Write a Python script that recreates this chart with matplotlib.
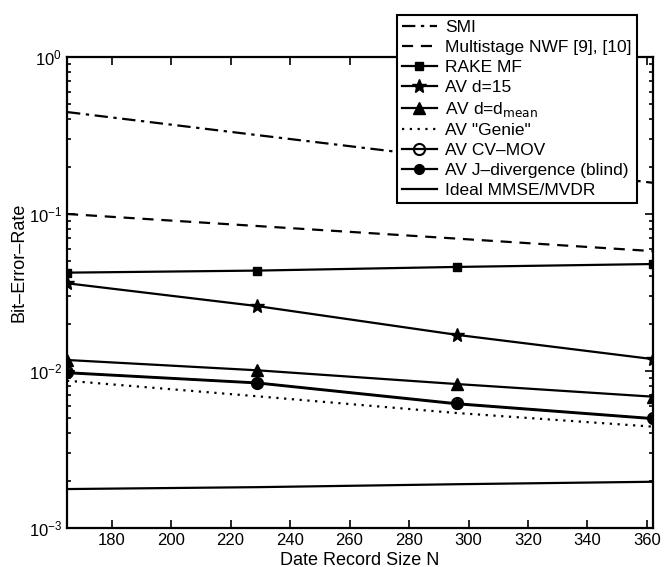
import matplotlib
matplotlib.use("Agg")
import matplotlib.pyplot as plt
import numpy as np

plt.rcParams['font.family'] = ['Liberation Sans', 'DejaVu Sans']

# data record sizes
N = [165, 229, 296, 362]

# bit error rates
smi = [0.446, 0.318, 0.224, 0.158]
nwf = [0.100, 0.0838, 0.0697, 0.058]
rake = [0.0423, 0.0436, 0.0460, 0.048]
av_d15 = [0.0362, 0.0259, 0.0170, 0.0119]
av_dmean = [0.01175, 0.0101, 0.00826, 0.00686]
av_genie = [0.00867, 0.0069, 0.0054, 0.00442]
av_cvmov = [0.0098, 0.00843, 0.00622, 0.0050]
av_jdiv = [0.0097, 0.00835, 0.00615, 0.00495]
ideal = [0.00177, 0.00182, 0.00190, 0.00197]

fig = plt.figure(figsize=(6.65, 5.67), dpi=100)
ax = fig.add_axes([0.1008, 0.0688, 0.881, 0.8307])

k = dict(color='black', lw=1.6)
ax.plot(N, smi, ls=(0, (6, 2.5, 1.5, 2.5)), label='SMI', **k)
ax.plot(N, nwf, ls=(0, (5, 3.5)), label='Multistage NWF [9], [10]', **k)
ax.plot(N, rake, '-s', ms=6, label='RAKE MF', **k)
ax.plot(N, av_d15, '-*', ms=10, label='AV d=15', **k)
ax.plot(N, av_dmean, '-^', ms=8, label='AV d=d$_{\\mathrm{mean}}$', **k)
ax.plot(N, av_genie, ls=(0, (1, 2.5)), label='AV "Genie"', **k)
ax.plot(N, av_cvmov, '-o', ms=8, mfc='none', mew=1.5, label='AV CV\u2013MOV', **k)
ax.plot(N, av_jdiv, '-o', ms=7, label='AV J\u2013divergence (blind)', **k)
ax.plot(N, ideal, '-', label='Ideal MMSE/MVDR', **k)

ax.set_yscale('log')
ax.set_xlim(165, 362)
ax.set_ylim(1e-3, 1)
ax.set_xticks(np.arange(180, 361, 20))
ax.tick_params(which='both', direction='in', top=True, right=True, labelsize=12, width=1.2)
ax.tick_params(which='major', length=6)
ax.tick_params(which='minor', length=3)
for s in ax.spines.values():
    s.set_linewidth(1.6)

ax.set_xlabel('Date Record Size N', fontsize=13)
ax.set_ylabel('Bit\u2013Error\u2013Rate', fontsize=13)
ax.xaxis.set_label_coords(0.5, -0.05)
ax.yaxis.set_label_coords(-0.068, 0.565)

leg = ax.legend(loc='upper right', bbox_to_anchor=(0.958, 0.9735),
                bbox_transform=fig.transFigure, fontsize=12.5, frameon=True,
                fancybox=False, edgecolor='black', framealpha=1,
                handlelength=2.0, labelspacing=0.27, borderpad=0.3,
                handletextpad=0.5, borderaxespad=0)
leg.get_frame().set_linewidth(1.5)
leg.set_zorder(5)

fig.savefig('out.png', dpi=100)
